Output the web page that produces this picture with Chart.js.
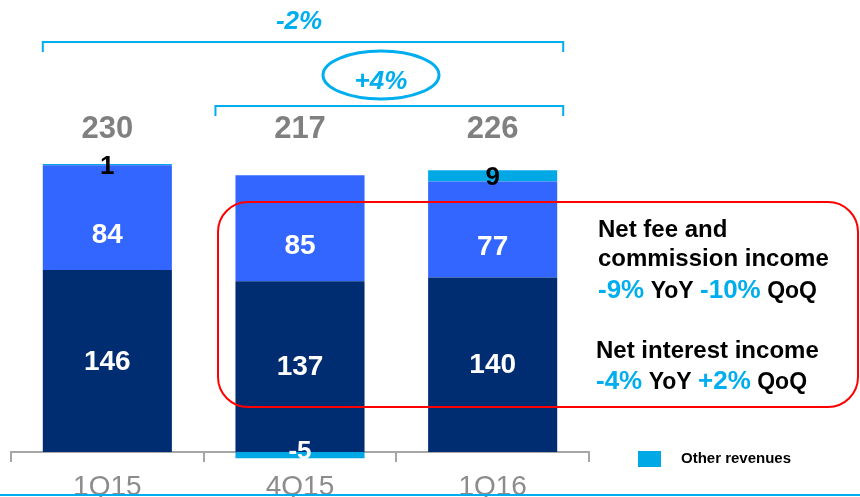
<!DOCTYPE html>
<html>
<head>
<meta charset="utf-8">
<script src="https://cdn.jsdelivr.net/npm/chart.js@4.4.1/dist/chart.umd.min.js"></script>
<style>
  html, body { margin: 0; padding: 0; background: #fff; }
  #wrap { width: 860px; height: 497px; position: relative; }
</style>
</head>
<body>
<div id="wrap"><canvas id="revenues" width="860" height="497"></canvas></div>
<script>
// quarterly revenues breakdown
const quarters = ['1Q15', '4Q15', '1Q16'];
const netInterest = [146, 137, 140];
const netFees = [84, 85, 77];
const otherRevenues = [1, -5, 9];
const totals = ['230', '217', '226'];

const yoyChange = '-2%';
const qoqChange = '+4%';
const feeNote = ['Net fee and', 'commission income'];
const feeChanges = [['-9%', ' YoY '], ['-10%', ' QoQ']];
const interestNote = ['Net interest income'];
const interestChanges = [['-4%', ' YoY '], ['+2%', ' QoQ']];

const NAVY = '#002D72';
const BLUE = '#3366FF';
const CYAN = '#00A8E6';
const ACCENT = '#00AEEF';
const FONT = '"Liberation Sans", Arial, sans-serif';

// segment value labels
const segmentLabels = {
  id: 'segmentLabels',
  afterDatasetsDraw(chart) {
    const ctx = chart.ctx;
    ctx.save();
    ctx.textAlign = 'center';
    ctx.textBaseline = 'middle';
    chart.data.datasets.forEach((ds, i) => {
      const meta = chart.getDatasetMeta(i);
      meta.data.forEach((bar, j) => {
        const v = ds.data[j];
        const mid = (bar.y + bar.base) / 2;
        if (i === 2) {
          ctx.font = 'bold 26px ' + FONT;
          ctx.fillStyle = v < 0 ? '#fff' : '#000';
          ctx.fillText(String(v), bar.x, v < 0 ? mid - 3 : mid + 2);
        } else {
          ctx.font = 'bold 28px ' + FONT;
          ctx.fillStyle = '#fff';
          ctx.fillText(String(v), bar.x, i === 1 ? mid + 18 : mid + 1);
        }
      });
    });
    // totals above the stacks
    ctx.font = 'bold 31px ' + FONT;
    ctx.fillStyle = '#808080';
    chart.getDatasetMeta(0).data.forEach((bar, j) => {
      ctx.fillText(totals[j], bar.x, 129);
    });
    ctx.restore();
  }
};

// brackets, growth bubble, commentary box and legend key
const callouts = {
  id: 'callouts',
  afterDraw(chart) {
    const ctx = chart.ctx;
    const bars = chart.getDatasetMeta(0).data;
    const half = bars[0].width / 2;
    const right = bars[2].x + half + 6;
    ctx.save();

    ctx.strokeStyle = ACCENT;
    ctx.lineWidth = 2;
    const bracket = (x0, x1, y) => {
      ctx.beginPath();
      ctx.moveTo(x0, y + 10);
      ctx.lineTo(x0, y);
      ctx.lineTo(x1, y);
      ctx.lineTo(x1, y + 10);
      ctx.stroke();
    };
    bracket(bars[0].x - half, right, 42);
    bracket(bars[1].x - half - 20, right, 106);

    ctx.lineWidth = 3;
    ctx.beginPath();
    ctx.ellipse(381, 75, 58, 24, 0, 0, Math.PI * 2);
    ctx.stroke();

    ctx.fillStyle = ACCENT;
    ctx.textAlign = 'center';
    ctx.textBaseline = 'middle';
    ctx.font = 'italic bold 26px ' + FONT;
    ctx.fillText(yoyChange, 299, 22);
    ctx.fillText(qoqChange, 381, 82);

    // commentary box
    ctx.strokeStyle = '#FF0000';
    ctx.lineWidth = 2;
    ctx.beginPath();
    ctx.roundRect(218, 202, 640, 205, 30);
    ctx.stroke();

    ctx.textAlign = 'left';
    ctx.textBaseline = 'alphabetic';
    ctx.fillStyle = '#000';
    ctx.font = 'bold 24px ' + FONT;
    feeNote.forEach((t, k) => ctx.fillText(t, 598, 237 + k * 29));
    interestNote.forEach((t) => ctx.fillText(t, 596, 358));

    const changeLine = (parts, x, y) => {
      parts.forEach(([pct, tag]) => {
        ctx.font = 'bold 26px ' + FONT;
        ctx.fillStyle = ACCENT;
        ctx.fillText(pct, x, y);
        x += ctx.measureText(pct).width;
        ctx.font = 'bold 23px ' + FONT;
        ctx.fillStyle = '#000';
        ctx.fillText(tag, x, y);
        x += ctx.measureText(tag).width;
      });
    };
    changeLine(feeChanges, 598, 298);
    changeLine(interestChanges, 596, 389);

    // legend key for the thin segment
    const other = chart.data.datasets[2];
    ctx.fillStyle = other.backgroundColor;
    ctx.fillRect(638, 451, 23, 16);
    ctx.fillStyle = '#000';
    ctx.font = 'bold 15px ' + FONT;
    ctx.fillText(other.label, 681, 463);

    // bottom rule
    ctx.strokeStyle = ACCENT;
    ctx.lineWidth = 2;
    ctx.beginPath();
    ctx.moveTo(0, 495);
    ctx.lineTo(860, 495);
    ctx.stroke();
    ctx.restore();
  }
};

const ctx = document.getElementById('revenues').getContext('2d');
new Chart(ctx, {
  type: 'bar',
  data: {
    labels: quarters,
    datasets: [
      { label: 'Net interest income', data: netInterest, backgroundColor: NAVY },
      { label: 'Net fee and commission income', data: netFees, backgroundColor: BLUE },
      { label: 'Other revenues', data: otherRevenues, backgroundColor: CYAN }
    ]
  },
  options: {
    responsive: false,
    animation: false,
    devicePixelRatio: 1,
    layout: { padding: { left: 11, right: 271, top: 78, bottom: 0 } },
    datasets: {
      bar: {
        clip: false,
        categoryPercentage: 1,
        barPercentage: 0.67,
        borderWidth: 0
      }
    },
    plugins: {
      legend: { display: false },
      tooltip: { enabled: false }
    },
    scales: {
      x: {
        stacked: true,
        afterFit: (s) => { s.height = 45; },
        grid: {
          offset: true,
          drawOnChartArea: false,
          tickLength: 10,
          color: '#A6A6A6',
          lineWidth: 2
        },
        border: { display: true, color: '#A6A6A6', width: 2 },
        ticks: {
          color: '#8C8C8C',
          padding: 8,
          font: { family: FONT, size: 28 }
        }
      },
      y: {
        stacked: true,
        display: false,
        min: 0,
        max: 300
      }
    }
  },
  plugins: [segmentLabels, callouts]
});
</script>
</body>
</html>
